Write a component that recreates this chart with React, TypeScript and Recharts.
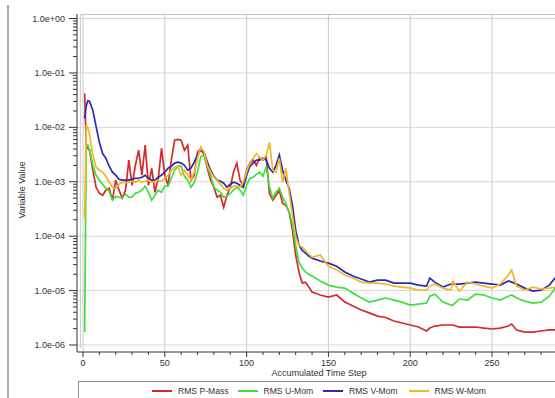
import { LineChart, Line, XAxis, YAxis, ReferenceLine } from 'recharts';

// accumulated time steps (irregular sampling, denser where curves are noisy)
const steps = [
  1, 2, 3, 4, 6, 8, 10, 12, 14, 16, 18, 20, 22, 24, 26, 28, 30, 32, 34, 36, 38, 40, 42, 44, 46, 48, 50,
  52, 54, 56, 58, 60, 62, 64, 66, 68, 70, 72, 74, 76, 78, 80, 82, 84, 86, 88, 90, 92, 94, 96, 98, 100,
  102, 104, 106, 108, 110, 112, 114, 116, 118, 120, 122, 124, 126, 128, 130, 132, 134, 136, 138, 140,
  145, 150, 155, 160, 165, 170, 175, 180, 185, 190, 195, 200, 205, 210, 212, 215, 220, 225, 226, 230,
  235, 240, 245, 250, 255, 260, 262, 265, 270, 275, 280, 285, 290,
];

const pMass = [
  4.2e-2, 4.7e-3, 4.1e-3, 3.8e-3, 1.63e-3, 7.9e-4, 6.15e-4, 5.65e-4, 7.0e-4, 7.6e-4, 4.6e-4, 1.07e-3, 7.0e-4, 5.0e-4,
  7.0e-4, 2.5e-3, 8.6e-4, 2.0e-3, 3.8e-3, 1.32e-3, 4.7e-3, 8.6e-4, 1.77e-3, 6.4e-4, 1.16e-3, 4.1e-3, 1.32e-3,
  8.6e-4, 2.5e-3, 5.8e-3, 6.0e-3, 5.8e-3, 3.8e-3, 4.7e-3, 1.07e-3, 1.32e-3, 3.5e-3, 4.1e-3, 3.1e-3, 1.77e-3,
  1.07e-3, 7.9e-4, 5.2e-4, 5.65e-4, 3.4e-4, 5.65e-4, 7.9e-4, 1.5e-3, 2.2e-3, 1.07e-3, 8.6e-4, 1.63e-3,
  2.2e-3, 2.5e-3, 2.0e-3, 2.8e-3, 2.5e-3, 2.8e-3, 6.0e-4, 4.6e-4, 5.65e-4, 7.0e-4, 4.0e-4, 3.7e-4, 2.76e-4,
  1.29e-4, 4.5e-5, 2.2e-5, 1.37e-5, 1.43e-5, 1.16e-5, 9.4e-6,
  8.3e-6, 7.6e-6, 8.3e-6, 6.15e-6, 5.2e-6, 4.4e-6, 3.9e-6, 3.4e-6, 3.2e-6, 2.76e-6, 2.54e-6, 2.33e-6, 2.14e-6,
  1.81e-6, 2.05e-6, 2.23e-6, 2.33e-6, 2.33e-6, 2.33e-6, 2.14e-6, 2.14e-6, 2.14e-6, 2.05e-6, 1.97e-6, 2.05e-6,
  2.23e-6, 2.43e-6, 1.89e-6, 1.73e-6, 1.73e-6, 1.81e-6, 1.89e-6, 1.89e-6,
];

const uMom = [
  1.73e-6, 4.7e-3, 4.7e-3, 3.8e-3, 2.0e-3, 1.32e-3, 1.07e-3, 9.0e-4, 7.6e-4, 6.7e-4, 4.6e-4, 5.4e-4, 5.2e-4, 5.0e-4,
  5.9e-4, 5.2e-4, 5.2e-4, 6.15e-4, 6.4e-4, 7.0e-4, 8.3e-4, 6.4e-4, 4.6e-4, 5.65e-4, 7.0e-4, 6.4e-4, 8.3e-4,
  8.3e-4, 1.16e-3, 1.63e-3, 1.93e-3, 1.93e-3, 1.26e-3, 1.07e-3, 7.9e-4, 9.8e-4, 1.5e-3, 2.9e-3, 3.1e-3, 2.0e-3,
  1.32e-3, 7.9e-4, 7.0e-4, 6.4e-4, 5.2e-4, 5.4e-4, 6.15e-4, 7.0e-4, 7.9e-4, 7.0e-4, 5.65e-4, 8.6e-4,
  1.16e-3, 1.21e-3, 1.37e-3, 1.5e-3, 1.26e-3, 1.9e-3, 7.9e-4, 5.0e-4, 6.4e-4, 7.6e-4, 5.2e-4, 4.0e-4, 2.76e-4,
  1.66e-4, 6.8e-5, 3.3e-5, 2.6e-5, 2.2e-5, 2.0e-5, 1.85e-5,
  1.5e-5, 1.26e-5, 1.16e-5, 1.11e-5, 9.0e-6, 7.3e-6, 6.15e-6, 6.7e-6, 7.3e-6, 6.7e-6, 6.15e-6, 5.4e-6, 5.65e-6,
  5.9e-6, 7.9e-6, 8.6e-6, 6.15e-6, 5.4e-6, 5.4e-6, 7.0e-6, 6.7e-6, 8.6e-6, 8.3e-6, 7.3e-6, 6.7e-6,
  7.9e-6, 8.3e-6, 7.3e-6, 6.4e-6, 5.9e-6, 6.15e-6, 7.9e-6, 1.26e-5,
];

const vMom = [
  1.46e-2, 2.5e-2, 3.1e-2, 3.0e-2, 2.05e-2, 1.04e-2, 5.3e-3, 3.3e-3, 2.7e-3, 1.93e-3, 1.5e-3, 1.32e-3, 1.11e-3, 1.07e-3,
  1.07e-3, 1.07e-3, 1.11e-3, 1.16e-3, 1.16e-3, 1.21e-3, 1.32e-3, 1.16e-3, 1.07e-3, 1.07e-3, 1.21e-3, 1.32e-3, 1.5e-3,
  1.77e-3, 1.93e-3, 2.2e-3, 2.3e-3, 2.2e-3, 2.0e-3, 1.63e-3, 1.77e-3, 2.3e-3, 3.1e-3, 3.8e-3, 3.5e-3, 2.3e-3,
  1.63e-3, 1.26e-3, 1.07e-3, 1.02e-3, 9.4e-4, 7.9e-4, 9.0e-4, 9.8e-4, 9.4e-4, 8.6e-4, 7.9e-4, 1.32e-3,
  1.93e-3, 2.2e-3, 2.5e-3, 2.5e-3, 2.7e-3, 2.5e-3, 1.77e-3, 1.5e-3, 2.0e-3, 3.1e-3, 1.63e-3, 1.07e-3, 7.6e-4,
  3.7e-4, 1.29e-4, 6.8e-5, 5.5e-5, 4.9e-5, 4.3e-5, 3.95e-5,
  3.5e-5, 3.2e-5, 2.8e-5, 2.2e-5, 1.85e-5, 1.63e-5, 1.43e-5, 1.56e-5, 1.56e-5, 1.37e-5, 1.37e-5, 1.37e-5, 1.26e-5,
  1.21e-5, 1.7e-5, 1.43e-5, 1.16e-5, 1.32e-5, 1.32e-5, 1.32e-5, 1.37e-5, 1.43e-5, 1.37e-5, 1.32e-5, 1.26e-5,
  1.5e-5, 1.43e-5, 1.32e-5, 1.11e-5, 9.8e-6, 1.02e-5, 1.26e-5, 1.93e-5,
];

const wMom = [
  2.1e-4, 1.1e-2, 9.6e-3, 7.4e-3, 3.1e-3, 1.85e-3, 1.63e-3, 1.5e-3, 1.26e-3, 9.8e-4, 7.9e-4, 7.6e-4, 9.0e-4, 9.8e-4,
  9.4e-4, 9.8e-4, 1.02e-3, 9.8e-4, 1.07e-3, 9.8e-4, 1.02e-3, 1.07e-3, 9.8e-4, 1.02e-3, 1.07e-3, 1.02e-3, 1.16e-3,
  1.32e-3, 1.63e-3, 1.85e-3, 1.93e-3, 1.32e-3, 1.63e-3, 1.32e-3, 1.07e-3, 1.5e-3, 2.7e-3, 4.3e-3, 3.5e-3, 2.0e-3,
  1.5e-3, 1.21e-3, 1.07e-3, 9.0e-4, 7.6e-4, 7.0e-4, 7.6e-4, 8.3e-4, 8.3e-4, 7.9e-4, 9.8e-4, 1.5e-3,
  2.3e-3, 2.7e-3, 3.3e-3, 2.8e-3, 2.5e-3, 3.1e-3, 5.3e-3, 1.63e-3, 1.5e-3, 2.7e-3, 9.8e-4, 1.77e-3, 6.4e-4,
  2.43e-4, 9.6e-5, 6.8e-5, 6.3e-5, 5.5e-5, 4.7e-5, 4.1e-5,
  4.5e-5, 2.8e-5, 2.4e-5, 1.93e-5, 1.7e-5, 1.43e-5, 1.37e-5, 1.37e-5, 1.32e-5, 1.21e-5, 1.16e-5, 1.11e-5, 1.02e-5,
  1.02e-5, 1.21e-5, 1.32e-5, 1.11e-5, 1.02e-5, 1.5e-5, 9.8e-6, 1.43e-5, 1.32e-5, 1.21e-5, 1.11e-5, 1.32e-5,
  1.93e-5, 2.4e-5, 1.21e-5, 1.02e-5, 1.16e-5, 1.07e-5, 1.11e-5, 1.16e-5,
];

const seriesNames = ['RMS P-Mass', 'RMS U-Mom', 'RMS V-Mom', 'RMS W-Mom'];
const seriesKeys = ['pMass', 'uMom', 'vMom', 'wMom'];
const seriesColors = ['#d42a2a', '#3ee03e', '#2a2ab4', '#f2b824'];

const yMajorTicks = [1e-6, 1e-5, 1e-4, 1e-3, 1e-2, 1e-1, 1e0];
const yTickLabels = ['1.0e-06', '1.0e-05', '1.0e-04', '1.0e-03', '1.0e-02', '1.0e-01', '1.0e+00'];
const yMinorTicks = yMajorTicks.slice(0, -1).flatMap(d => [2, 3, 4, 5, 6, 7, 8, 9].map(m => m * d));
const xMajorTicks = [0, 50, 100, 150, 200, 250];
const xAllTicks = [0, 10, 20, 30, 40, 50, 60, 70, 80, 90, 100, 110, 120, 130, 140, 150, 160, 170, 180, 190, 200,
  210, 220, 230, 240, 250, 260, 270, 280, 290, 300, 310];

const data = steps.map((step, i) => ({
  step,
  pMass: pMass[i],
  uMom: uMom[i],
  vMom: vMom[i],
  wMom: wMom[i],
}));

const TEXT = '#333';

const YTick = ({ x, y, payload }: any) => {
  const idx = yMajorTicks.indexOf(payload.value);
  const major = idx >= 0;
  return (
    <g>
      <line x1={x - (major ? 8 : 4)} x2={x} y1={y} y2={y} stroke="#333" strokeWidth={1} />
      {major && (
        <text x={x - 12} y={y} dy={3} textAnchor="end" fontSize={9} fill={TEXT}>
          {yTickLabels[idx]}
        </text>
      )}
    </g>
  );
};

const XTick = ({ x, y, payload }: any) => {
  const major = payload.value % 50 === 0;
  return (
    <g>
      <line x1={x} x2={x} y1={y} y2={y + (major ? 5 : 3)} stroke="#333" strokeWidth={1} />
      {xMajorTicks.includes(payload.value) && (
        <text x={x} y={y + 14} textAnchor="middle" fontSize={9} fill={TEXT}>
          {payload.value}
        </text>
      )}
    </g>
  );
};

export default function App() {
  return (
    <div
      style={{
        position: 'absolute', left: 0, top: 0, width: 555, height: 398, overflow: 'hidden',
        background: '#fff', fontFamily: '"Liberation Sans", Arial, sans-serif', color: TEXT,
      }}
    >
      {/* window edge on the left */}
      <div style={{ position: 'absolute', left: 7, top: 5, width: 2, height: 393, background: '#a8a8a8' }} />

      <LineChart width={600} height={398} data={data} margin={{ top: 14, right: 0, bottom: 0, left: 0 }}>
        <XAxis
          dataKey="step"
          type="number"
          domain={[-3.67, 316]}
          allowDataOverflow
          ticks={xAllTicks}
          interval={0}
          tick={<XTick />}
          tickLine={false}
          tickSize={0}
          tickMargin={0}
          height={46}
          axisLine={{ stroke: '#333' }}
        />
        <YAxis
          type="number"
          scale="log"
          domain={[7.44e-7, 1.21]}
          allowDataOverflow
          ticks={[...yMajorTicks, ...yMinorTicks]}
          interval={0}
          tick={<YTick />}
          tickLine={false}
          tickSize={0}
          tickMargin={0}
          width={77}
          axisLine={{ stroke: '#333' }}
        />
        {yMajorTicks.map(v => (
          <ReferenceLine key={'h' + v} y={v} stroke="#d6d6d6" strokeWidth={1} />
        ))}
        {[...xMajorTicks, 300].map(v => (
          <ReferenceLine key={'v' + v} x={v} stroke="#cacaca" strokeWidth={1} />
        ))}
        {seriesKeys.map((k, i) => (
          <Line
            key={k}
            dataKey={k}
            name={seriesNames[i]}
            type="linear"
            stroke={seriesColors[i]}
            strokeWidth={1.7}
            dot={false}
            isAnimationActive={false}
          />
        ))}
      </LineChart>

      {/* plot frame */}
      <div style={{ position: 'absolute', left: 80, top: 14, width: 475, height: 1, background: '#c4c4c4' }} />
      <div style={{ position: 'absolute', left: 80, top: 14, width: 1, height: 334, background: '#d0d0d0' }} />

      {/* axis titles */}
      <div
        style={{
          position: 'absolute', left: 219, top: 367, width: 200, textAlign: 'center',
          fontSize: 9, lineHeight: '12px',
        }}
      >
        Accumulated Time Step
      </div>
      <div
        style={{
          position: 'absolute', left: -28, top: 184, width: 100, height: 12, textAlign: 'center',
          fontSize: 9, lineHeight: '12px', transform: 'rotate(-90deg)',
        }}
      >
        Variable Value
      </div>

      {/* legend */}
      <div
        style={{
          position: 'absolute', left: 78, top: 381, width: 480, height: 20,
          borderTop: '1px solid #8c8c8c', borderLeft: '1px solid #8c8c8c',
        }}
      >
        {seriesNames.map((name, i) => (
          <div
            key={name}
            style={{
              position: 'absolute', left: 73 + i * 85.5, top: 3, height: 12,
              display: 'flex', alignItems: 'center', fontSize: 8.6, whiteSpace: 'nowrap',
            }}
          >
            <span style={{ display: 'inline-block', width: 20, height: 2, background: seriesColors[i] }} />
            <span style={{ marginLeft: 6 }}>{name}</span>
          </div>
        ))}
      </div>
    </div>
  );
}
